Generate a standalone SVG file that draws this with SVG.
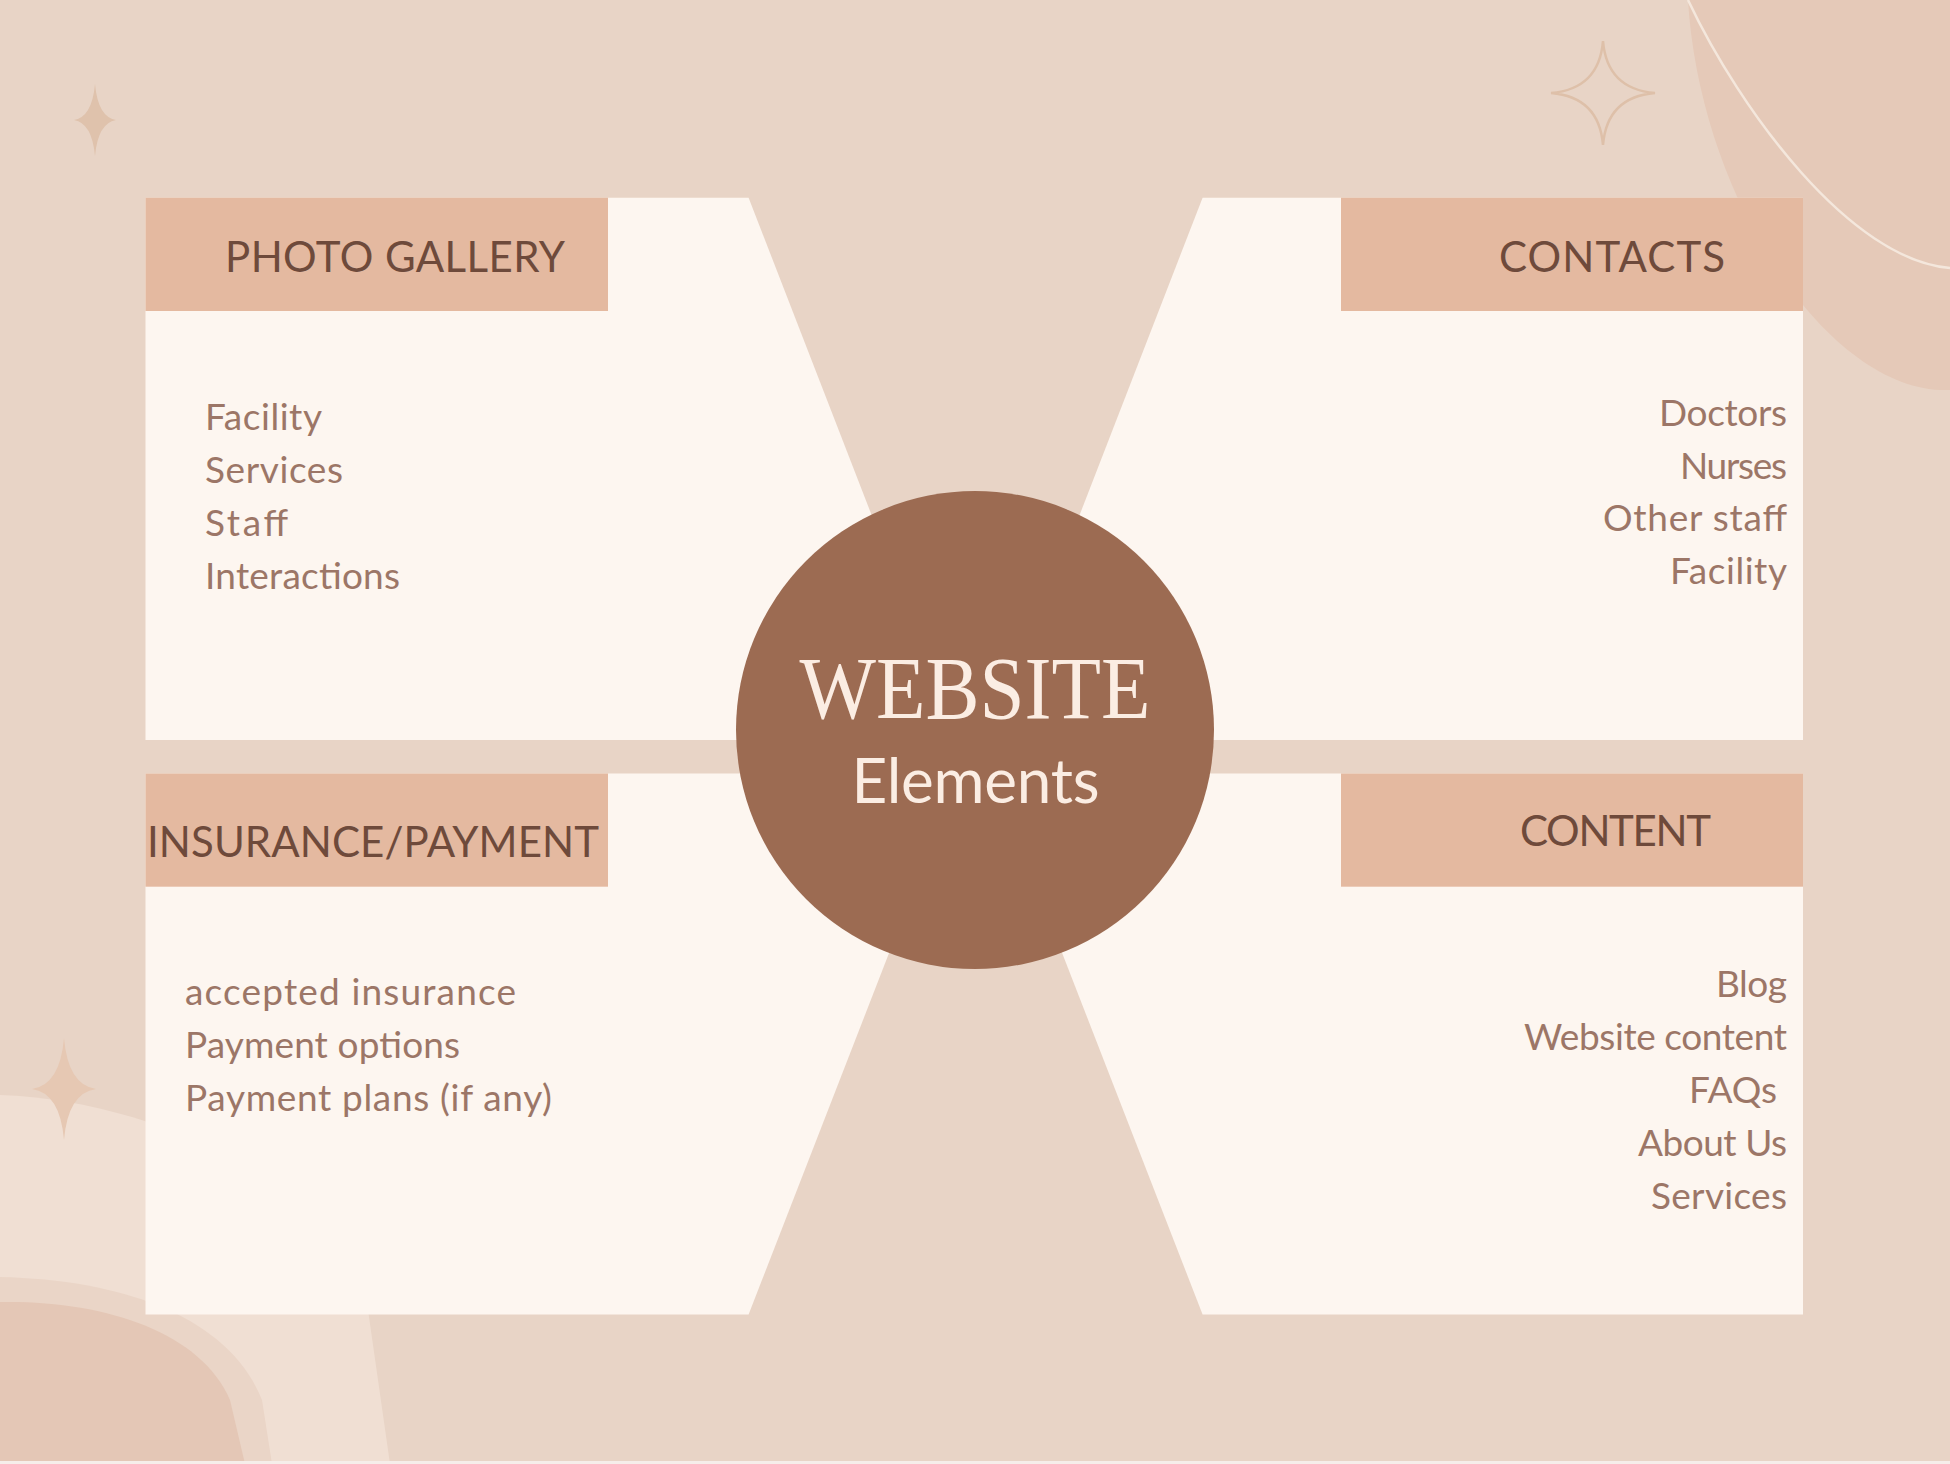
<svg xmlns="http://www.w3.org/2000/svg" width="1950" height="1464" viewBox="0 0 1950 1464">
<style>
.panel{fill:#FDF6F0}
.head{fill:#E4B9A0}
.htxt{font-family:Lato,"Liberation Sans",sans-serif;font-size:42px;fill:#6E4A3B;letter-spacing:1px}
.item{font-family:Lato,"Liberation Sans",sans-serif;font-size:37px;fill:#9C7667}
.end{text-anchor:end}
</style>
<g id="background">
<rect x="0" y="0" width="1950" height="1464" fill="#E8D4C6"/>
<path d="M1688 0 C1700 200 1830 395 1950 390 L1950 0 Z" fill="#E5C9B8"/>
<path d="M1688 0 C1740 110 1850 260 1950 268" fill="none" stroke="#F4E7DC" stroke-width="2.5"/>
<path d="M1603 41 Q1607 89 1655 93 Q1607 97 1603 145 Q1599 97 1551 93 Q1599 89 1603 41 Z" fill="none" stroke="#DEC0A9" stroke-width="2.5"/>
<path d="M95 84 Q98 117 116 120 Q98 123 95 156 Q92 123 74 120 Q92 117 95 84 Z" fill="#DFC2AC"/>
<path d="M0 1095 C150 1100 330 1180 368 1310 L390 1464 L0 1464 Z" fill="#F0DFD3"/>
<path d="M64 1038 Q68 1085 96 1089 Q68 1093 64 1140 Q60 1093 32 1089 Q60 1085 64 1038 Z" fill="#E6C8B3"/>
<path d="M0 1277 C130 1280 230 1320 262 1400 L272 1464 L0 1464 Z" fill="#EAD5C7"/>
<path d="M0 1302 C100 1300 200 1330 230 1400 L245 1464 L0 1464 Z" fill="#E4C7B6"/>
<rect x="0" y="1461" width="1950" height="3" fill="#F6EEEA"/>
</g>
<g id="connectors"/>
<g id="node-photo-gallery">
<polygon class="panel" points="145.5,197.7 748.6,197.7 958.8,740 145.5,740"/>
<rect class="head" x="145.5" y="197.7" width="462.5" height="113.3"/>
<text class="htxt" x="225" y="272" textLength="341">PHOTO GALLERY</text>
<text class="item" x="205" y="429.5" textLength="117">Facility</text>
<text class="item" x="205" y="483" textLength="138">Services</text>
<text class="item" x="205" y="536" textLength="83">Staff</text>
<text class="item" x="205" y="589" textLength="195">Interactions</text>
</g>
<g id="node-contacts">
<polygon class="panel" points="1202.6,197.7 1803,197.7 1803,740 992.4,740"/>
<rect class="head" x="1341" y="197.7" width="462" height="113.3"/>
<text class="htxt" x="1499" y="272" textLength="227">CONTACTS</text>
<text class="item end" x="1787" y="426" textLength="128">Doctors</text>
<text class="item end" x="1787" y="479" textLength="107">Nurses</text>
<text class="item end" x="1787" y="531" textLength="184">Other staff</text>
<text class="item end" x="1787" y="584" textLength="117">Facility</text>
</g>
<g id="node-insurance-payment">
<polygon class="panel" points="145.5,773.5 958.8,773.5 748.6,1314.5 145.5,1314.5"/>
<rect class="head" x="145.5" y="773.5" width="462.5" height="113.2"/>
<text class="htxt" x="147" y="857" textLength="453">INSURANCE/PAYMENT</text>
<text class="item" x="185" y="1005" textLength="331">accepted insurance</text>
<text class="item" x="185" y="1058" textLength="275">Payment options</text>
<text class="item" x="185" y="1111" textLength="367">Payment plans (if any)</text>
</g>
<g id="node-content">
<polygon class="panel" points="992.4,773.5 1803,773.5 1803,1314.5 1202.6,1314.5"/>
<rect class="head" x="1341" y="773.5" width="462" height="113.2"/>
<text class="htxt" x="1520" y="846" textLength="192">CONTENT</text>
<text class="item end" x="1787" y="997" textLength="71">Blog</text>
<text class="item end" x="1787" y="1050" textLength="263">Website content</text>
<text class="item end" x="1777" y="1103" textLength="88">FAQs</text>
<text class="item end" x="1787" y="1156" textLength="149">About Us</text>
<text class="item end" x="1787" y="1209" textLength="136">Services</text>
</g>
<g id="node-center">
<circle cx="975" cy="730" r="239" fill="#9C6B52"/>
<text x="975" y="718" text-anchor="middle" font-family="'Liberation Serif',serif" font-size="89" fill="#FBEDE3" textLength="351" lengthAdjust="spacingAndGlyphs">WEBSITE</text>
<text x="976" y="803" text-anchor="middle" font-family="Lato,'Liberation Sans',sans-serif" font-size="62" fill="#FBEDE3" textLength="249" letter-spacing="1">Elements</text>
</g>
</svg>
